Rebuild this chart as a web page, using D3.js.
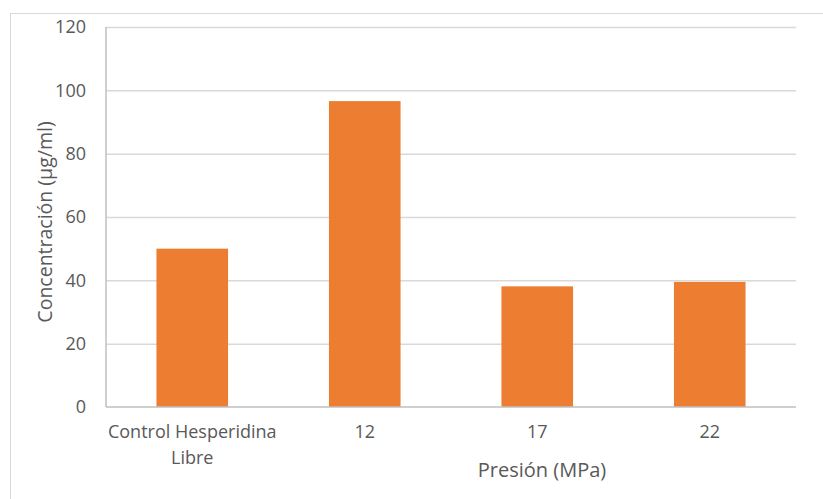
<!DOCTYPE html>
<html>
<head>
<meta charset="utf-8">
<script src="https://cdnjs.cloudflare.com/ajax/libs/d3/7.8.5/d3.min.js"></script>
<style>
  body { margin: 0; background: #fff; }
  text { font-family: "Open Sans", sans-serif; fill: #595959; }
</style>
</head>
<body>
<script>
// data
var categories = ["Control Hesperidina Libre", "12", "17", "22"]
var values = [50, 96.6, 38.1, 39.5]
var yTicks = [0, 20, 40, 60, 80, 100, 120]

var W = 823, H = 499
var margin = {top: 27, right: 27, bottom: 92, left: 106}
  , width = W - margin.left - margin.right
  , height = H - margin.top - margin.bottom

var svg = d3.select("body").append("svg")
    .attr("width", W)
    .attr("height", H)

// outer chart frame
svg.append("rect")
    .attr("x", 10.5).attr("y", 13.5)
    .attr("width", W).attr("height", H)
    .attr("fill", "none")
    .attr("stroke", "#d9d9d9")

var g = svg.append("g")
    .attr("transform", "translate(" + margin.left + "," + margin.top + ")")

var x = d3.scaleBand()
    .domain(categories)
    .range([0, width])
    .paddingInner(0.585)
    .paddingOuter(0.2925)

var y = d3.scaleLinear()
    .domain([0, 120])
    .range([height, 0])

// gridlines
g.selectAll(".grid")
  .data(yTicks.filter(function(d) { return d > 0 }))
  .enter().append("line")
    .attr("x1", 0).attr("x2", width)
    .attr("y1", function(d) { return y(d) + 0.5 })
    .attr("y2", function(d) { return y(d) + 0.5 })
    .attr("stroke", "#d9d9d9")
    .attr("stroke-width", 1.5)

// bars
g.selectAll(".bar")
  .data(values)
  .enter().append("rect")
    .attr("x", function(d, i) { return x(categories[i]) })
    .attr("y", function(d) { return y(d) })
    .attr("width", x.bandwidth())
    .attr("height", function(d) { return height - y(d) })
    .attr("fill", "#ed7d31")

// axes lines
g.append("line")
    .attr("x1", 0).attr("x2", 0)
    .attr("y1", 0).attr("y2", height)
    .attr("stroke", "#bfbfbf").attr("stroke-width", 1.5)
g.append("line")
    .attr("x1", 0).attr("x2", width)
    .attr("y1", height).attr("y2", height)
    .attr("stroke", "#bfbfbf").attr("stroke-width", 1.5)

// y tick labels
var yAxis = g.append("g")
    .call(d3.axisLeft(y).tickValues(yTicks).tickSize(0).tickPadding(20))
yAxis.select(".domain").remove()
yAxis.selectAll("text")
    .style("font-size", "18px")
    .attr("fill", "#595959")
    .attr("font-family", null)

// x tick labels (wrapped)
var xAxis = g.append("g")
    .attr("transform", "translate(0," + height + ")")
    .call(d3.axisBottom(x).tickSize(0).tickPadding(18))
xAxis.select(".domain").remove()
xAxis.selectAll("text")
    .style("font-size", "18px")
    .attr("fill", "#595959")
    .attr("font-family", null)
    .each(function(d) {
        if (d.length > 12) {
            var t = d3.select(this), words = d.split(" ")
            var yy = t.attr("y"), dy = t.attr("dy")
            t.text(null)
            t.append("tspan").attr("x", 0).attr("y", yy).attr("dy", dy)
                .text(words.slice(0, 2).join(" "))
            t.append("tspan").attr("x", 0).attr("y", yy).attr("dy", "2.15em")
                .text(words.slice(2).join(" "))
        }
    })

// axis titles
svg.append("text")
    .attr("text-anchor", "middle")
    .attr("transform", "translate(45,222)rotate(-90)")
    .attr("dy", "0.35em")
    .style("font-size", "19.5px")
    .text("Concentración (µg/ml)")

svg.append("text")
    .attr("text-anchor", "middle")
    .attr("x", 542)
    .attr("y", 477)
    .style("font-size", "20px")
    .text("Presión (MPa)")
</script>
</body>
</html>
